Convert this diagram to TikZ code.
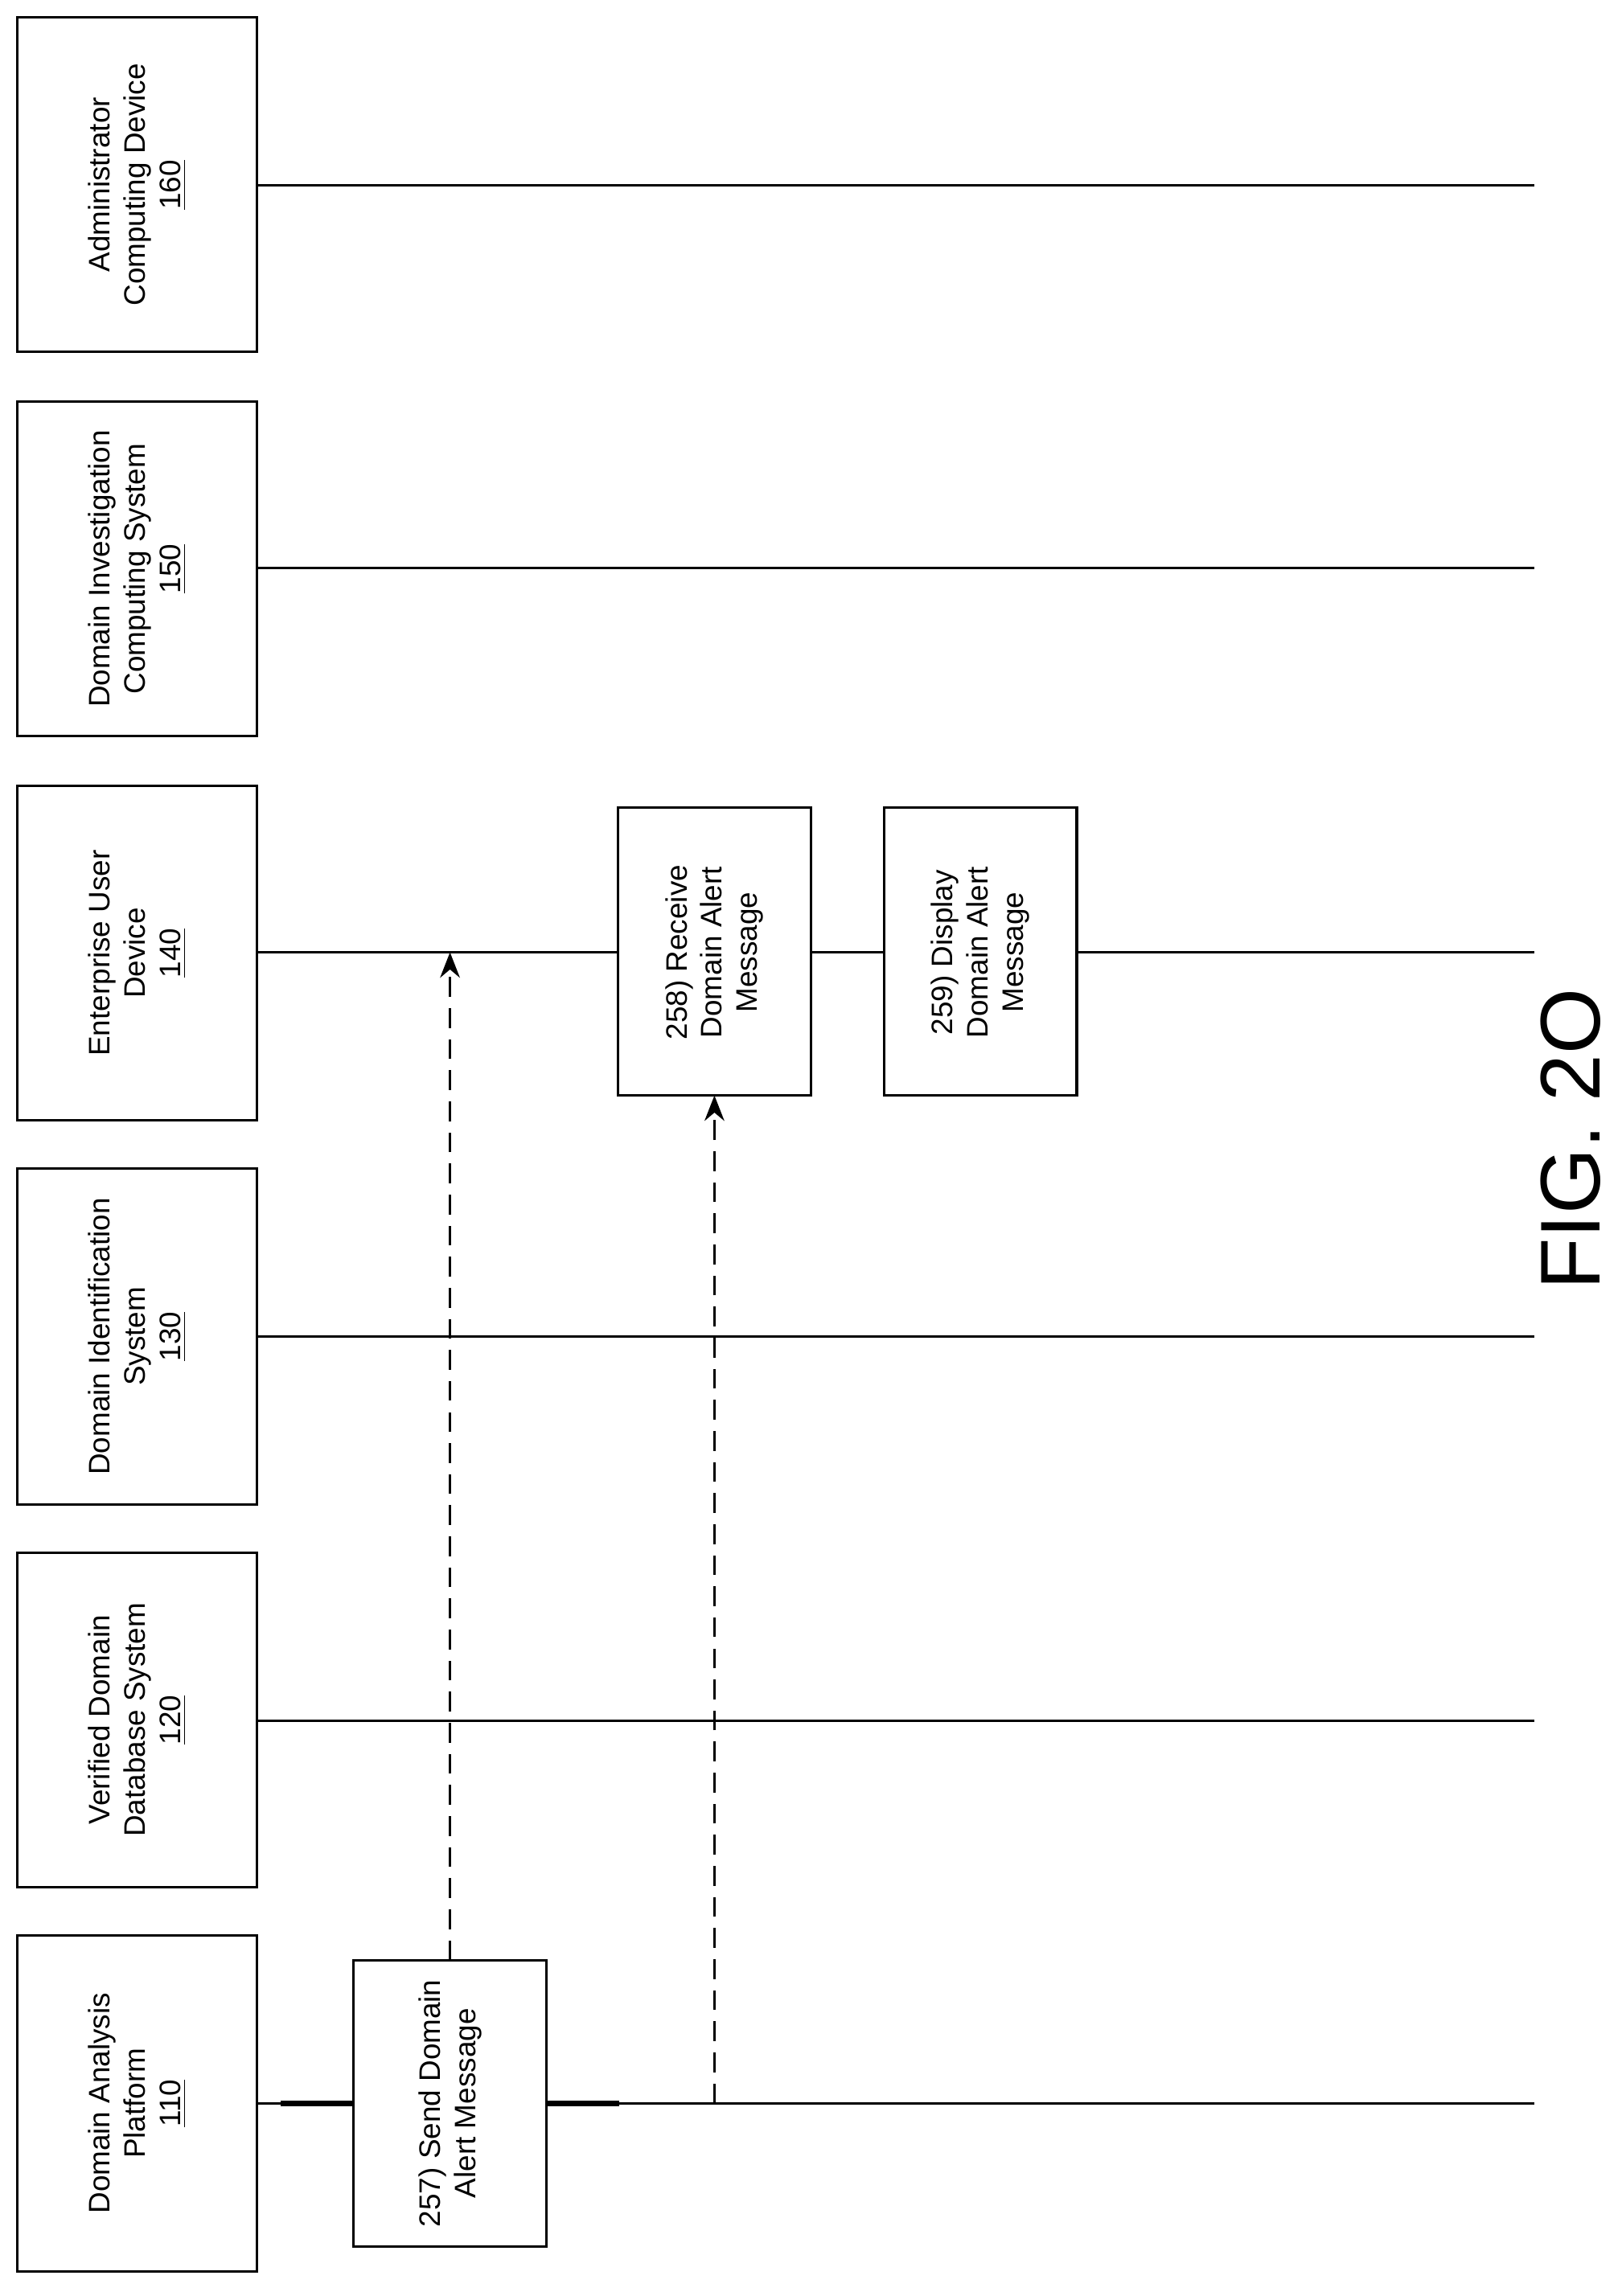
\documentclass[tikz,border=0pt]{standalone}
\usepackage{fontspec}
\setmainfont{Liberation Sans}
\usetikzlibrary{arrows.meta}
\begin{document}
\begin{tikzpicture}[x={(0.01817cm,0)},y={(0,-0.01817cm)},
  box/.style={draw,line width=0.9pt},
  lbl/.style={rotate=90,align=center,font=\fontsize{10.5}{12.5}\selectfont},
  life/.style={line width=0.9pt},
  msg/.style={line width=0.9pt,dash pattern=on 7pt off 4pt,-{Stealth[length=9pt,width=7pt]}}]
\useasboundingbox (0,0) rectangle (1110,1572);
% headers
\foreach \n/\ya/\yb/\t in {a/1325/1555/{Domain Analysis\\Platform\\\underline{110}},
 b/1063/1292/{Verified Domain\\Database System\\\underline{120}},
 c/800/1030/{Domain Identification\\System\\\underline{130}},
 d/538/767/{Enterprise User\\Device\\\underline{140}},
 e/275/504/{Domain Investigation\\Computing System\\\underline{150}},
 f/12/241/{Administrator\\Computing Device\\\underline{160}}}{
 \draw[box] (12,\ya) rectangle (176,\yb);
 \node[lbl] (h\n) at (94,{(\ya+\yb)/2}) {\t};
}
\foreach \n/\y in {a/1440,b/1178,c/915,d/652,e/389,f/127}{
 \coordinate (s\n) at (176,\y); \coordinate (t\n) at (1050,\y);
}
\draw[life] (sa)--(ta); \draw[life] (sb)--(tb); \draw[life] (sc)--(tc);
\draw[life] (sd)--(td); \draw[life] (se)--(te); \draw[life] (sf)--(tf);
% step boxes
\node[box,fill=white,minimum width=132\pgflinewidth,inner sep=0] (b257) at (308,1440) {};
\fill[white] (242,1342) rectangle (374,1538);
\draw[box] (242,1342) rectangle (374,1538);
\node[lbl] (n257) at (308,1440) {257) Send Domain\\Alert Message};
\fill[white] (423,553) rectangle (555,750);
\draw[box] (423,553) rectangle (555,750);
\node[lbl] (n258) at (489,652) {258) Receive\\Domain Alert\\Message};
\fill[white] (605,553) rectangle (737,750);
\draw[box] (605,553) rectangle (737,750);
\node[lbl] (n259) at (671,652) {259) Display\\Domain Alert\\Message};
\coordinate (m1s) at (308,1342); \coordinate (m1e) at (308,652);
\coordinate (m2s) at (489,1440); \coordinate (m2e) at (489,750);
\draw[msg] (m1s)--(m1e);
\draw[msg] (m2s)--(m2e);
\node[rotate=90,font=\fontsize{30}{34}\selectfont] (fig) at (1075,780) {FIG. 2O};
\end{tikzpicture}
\end{document}
